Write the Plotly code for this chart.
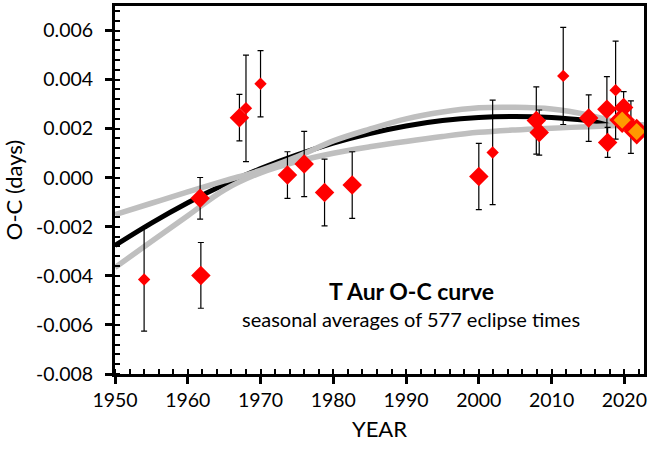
import plotly.graph_objects as go

# Seasonal O-C averages: large markers
years_big = [1961.7, 1961.8, 1967.1, 1973.7, 1976.0, 1978.8, 1982.6, 2000.0,
             2007.9, 2008.3, 2015.1, 2017.6, 2017.7, 2019.9, 2020.9]
oc_big = [-0.00084, -0.00398, 0.00245, 0.00011, 0.00056, -0.00060, -0.00030, 0.00005,
          0.00233, 0.00184, 0.00243, 0.00279, 0.00144, 0.00286, 0.00206]
err_big = [0.00085, 0.00134, 0.00095, 0.00095, 0.00133, 0.00136, 0.00136, 0.00135,
           0.00137, 0.00092, 0.00095, 0.00133, 0.00061, 0.00065, 0.00107]

# Seasonal O-C averages: small markers (fewer timings)
years_small = [1954.0, 1968.0, 1970.0, 2001.9, 2011.6, 2018.8]
oc_small = [-0.00415, 0.00283, 0.00383, 0.00103, 0.00415, 0.00357]
err_small = [0.00210, 0.00217, 0.00135, 0.00213, 0.00198, 0.00200]

# Most recent seasons
years_recent = [2019.7, 2021.7]
oc_recent = [0.00235, 0.00188]

# Fitted curve and its upper / lower bounds
fit_years = [1950, 1955, 1960, 1965, 1970, 1975, 1980, 1985, 1990, 1995,
             2000, 2005, 2010, 2015, 2020, 2022.7]
fit_mid = [-0.00276, -0.00185, -0.00102, -0.00028, 0.00037, 0.00093, 0.00141, 0.00180,
           0.00211, 0.00233, 0.00246, 0.00250, 0.00246, 0.00233, 0.00214, 0.00198]
fit_upper = [-0.00150, -0.00104, -0.00058, -0.00013, 0.00030, 0.00085, 0.00150, 0.00198,
             0.00240, 0.00268, 0.00285, 0.00287, 0.00280, 0.00256, 0.00218, 0.00200]
fit_lower = [-0.00366, -0.00260, -0.00155, -0.00050, 0.00020, 0.00066, 0.00100, 0.00126,
             0.00148, 0.00168, 0.00185, 0.00195, 0.00202, 0.00208, 0.00214, 0.00216]

y_tickvals = [-0.008, -0.006, -0.004, -0.002, 0.000, 0.002, 0.004, 0.006]
y_ticktext = ["-0.008", "-0.006", "-0.004", "-0.002", "0.000", "0.002", "0.004", "0.006"]
x_tickvals = [1950, 1960, 1970, 1980, 1990, 2000, 2010, 2020]

FONT = "Lato, 'Open Sans', sans-serif"
RED = "#FF0000"
GRAY = "#BFBFBF"

fig = go.Figure()

fig.add_trace(go.Scatter(x=fit_years, y=fit_mid, mode="lines",
                         line=dict(color="black", width=5, shape="spline"),
                         hoverinfo="skip", showlegend=False))
for band in (fit_upper, fit_lower):
    fig.add_trace(go.Scatter(x=fit_years, y=band, mode="lines",
                             line=dict(color=GRAY, width=5.5, shape="spline"),
                             hoverinfo="skip", showlegend=False))

errstyle = dict(type="data", thickness=1.2, width=3, color="black")

fig.add_trace(go.Scatter(
    x=years_small, y=oc_small, mode="markers",
    error_y=dict(array=err_small, **errstyle),
    marker=dict(symbol="diamond", size=9.5, color=RED, line=dict(width=0)),
    showlegend=False))
fig.add_trace(go.Scatter(
    x=years_big, y=oc_big, mode="markers",
    error_y=dict(array=err_big, **errstyle),
    marker=dict(symbol="diamond", size=15, color=RED, line=dict(width=0)),
    showlegend=False))
fig.add_trace(go.Scatter(
    x=years_recent, y=oc_recent, mode="markers",
    marker=dict(symbol="diamond", size=16.5, color="#FF9900",
                line=dict(width=3, color=RED)),
    showlegend=False))

XR = [1950, 2022.7]
YR = [-0.008, 0.007]

fig.update_layout(
    width=650, height=449,
    margin=dict(l=115, r=3, t=4, b=75),
    paper_bgcolor="white", plot_bgcolor="white",
    font=dict(family=FONT, size=19, color="black"),
    xaxis=dict(
        range=XR, tickmode="array", tickvals=x_tickvals,
        showgrid=False, zeroline=False,
        showline=True, linecolor="black", linewidth=3, mirror=True,
        ticks="outside", ticklen=7, tickwidth=2.5, tickcolor="black",
        minor=dict(tickmode="linear", tick0=1950, dtick=2, ticks="inside",
                   ticklen=5, tickwidth=2, tickcolor="black", showgrid=False),
        title=dict(text="YEAR", font=dict(size=22), standoff=12),
        tickfont=dict(size=19.5),
    ),
    yaxis=dict(
        range=YR, tickmode="array", tickvals=y_tickvals, ticktext=y_ticktext,
        showgrid=False, zeroline=False,
        showline=True, linecolor="black", linewidth=3, mirror=True,
        ticks="outside", ticklen=7, tickwidth=2.5, tickcolor="black",
        ticklabelstandoff=8,
        minor=dict(tickmode="linear", tick0=-0.008, dtick=0.0004, ticks="inside",
                   ticklen=5, tickwidth=2, tickcolor="black", showgrid=False),
        title=dict(text="O-C (days)", font=dict(size=22), standoff=10),
        tickfont=dict(size=19.5),
    ),
    # inner halves of the major ticks, so they cross the axis lines
    xaxis2=dict(range=XR, overlaying="x", anchor="y2", side="bottom",
                tickmode="array", tickvals=x_tickvals, showticklabels=False,
                ticks="inside", ticklen=7, tickwidth=2.5, tickcolor="black",
                showgrid=False, zeroline=False, showline=False),
    yaxis2=dict(range=YR, overlaying="y", anchor="x2", side="left",
                tickmode="array", tickvals=y_tickvals, showticklabels=False,
                ticks="inside", ticklen=7, tickwidth=2.5, tickcolor="black",
                showgrid=False, zeroline=False, showline=False),
    annotations=[
        dict(text="<b>T Aur O-C curve</b>", xref="paper", yref="paper",
             x=0.56, y=0.226, showarrow=False, font=dict(size=23),
             xanchor="center", yanchor="middle"),
        dict(text="seasonal averages of 577 eclipse times", xref="paper", yref="paper",
             x=0.56, y=0.149, showarrow=False, font=dict(size=20),
             xanchor="center", yanchor="middle"),
    ],
)

fig.write_html("out.html")
